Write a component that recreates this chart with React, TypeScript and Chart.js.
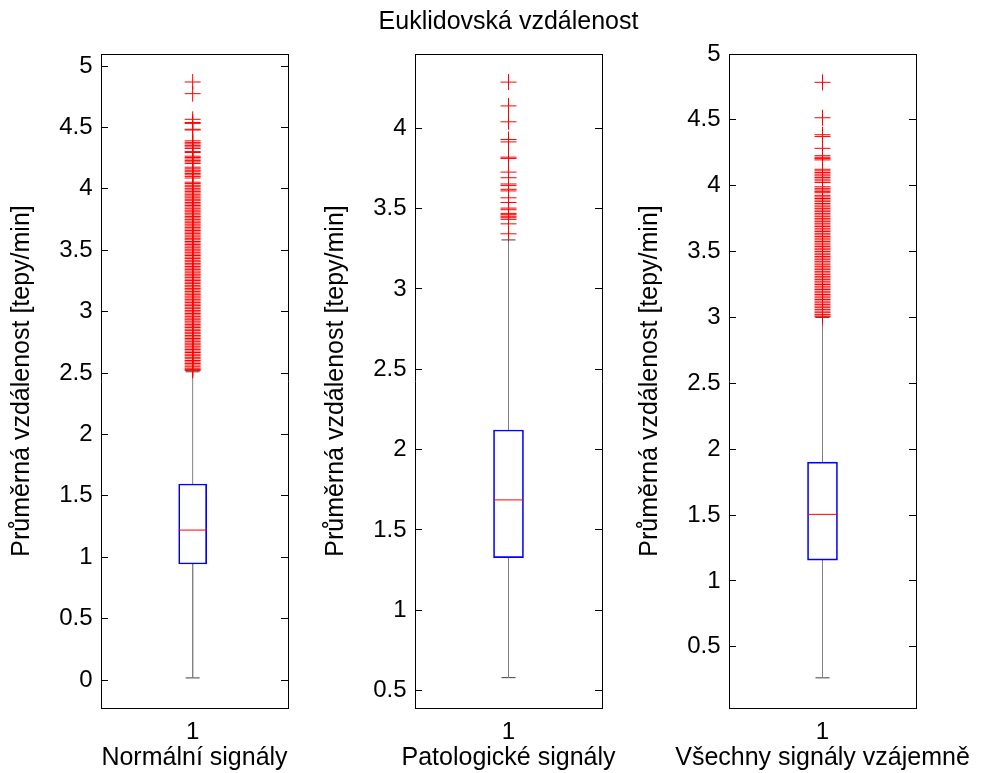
import React, { useEffect, useRef } from 'react';
import { Chart, registerables } from 'chart.js';

Chart.register(...registerables);

// ---------------- data ----------------
const MAIN_TITLE = 'Euklidovská vzdálenost';
const Y_TITLE = 'Průměrná vzdálenost [tepy/min]';
const CATEGORY_LABEL = '1';
const GROUP_LABELS = ['Normální signály', 'Patologické signály', 'Všechny signály vzájemně'];

const Q1 = [0.945, 1.328, 1.158];
const MEDIAN = [1.221, 1.687, 1.505];
const Q3 = [1.596, 2.122, 1.902];
const WHISKER_LOW = [0.017, 0.581, 0.264];
const WHISKER_HIGH = [2.51, 3.305, 3.0];

const OUTLIERS_NORMAL = [
  4.87, 4.775, 4.566, 4.54, 4.533, 4.485, 4.479,
  4.391, 4.378, 4.366, 4.352, 4.341, 4.329, 4.303, 4.296, 4.266, 4.255, 4.243, 4.23, 4.219, 4.206,
  4.176, 4.163, 4.151, 4.139, 4.125, 4.114, 4.101, 4.088, 4.054, 4.043, 4.029, 4.017, 4.004, 3.991,
  3.979, 3.966, 3.952, 3.941, 3.927, 3.915, 3.903, 3.889, 3.877, 3.864, 3.852, 3.838, 3.826, 3.813,
  3.801, 3.788, 3.775, 3.763, 3.749, 3.737, 3.724, 3.712, 3.698, 3.686, 3.673, 3.661, 3.648, 3.635,
  3.623, 3.609, 3.597, 3.585, 3.571, 3.559, 3.546, 3.534, 3.52, 3.508, 3.495, 3.483, 3.469, 3.457,
  3.444, 3.432, 3.418, 3.406, 3.393, 3.381, 3.367, 3.355, 3.342, 3.33, 3.316, 3.304, 3.291, 3.279,
  3.265, 3.253, 3.24, 3.228, 3.214, 3.202, 3.189, 3.177, 3.163, 3.151, 3.138, 3.126, 3.112, 3.1,
  3.087, 3.075, 3.061, 3.049, 3.036, 3.024, 3.01, 2.998, 2.985, 2.973, 2.959, 2.947, 2.934, 2.922,
  2.908, 2.896, 2.883, 2.871, 2.857, 2.845, 2.832, 2.82, 2.806, 2.794, 2.781, 2.769, 2.755, 2.743,
  2.73, 2.718, 2.704, 2.692, 2.679, 2.667, 2.653, 2.641, 2.628, 2.616, 2.602, 2.59, 2.577, 2.565,
  2.551, 2.539, 2.528, 2.521,
];

const OUTLIERS_PATHOLOGICAL = [
  4.287, 4.139, 4.04, 3.93, 3.915, 3.82, 3.812, 3.727, 3.692, 3.653, 3.643, 3.62, 3.61, 3.567,
  3.538, 3.503, 3.493, 3.47, 3.462, 3.452, 3.443, 3.433, 3.405, 3.343,
];

const OUTLIERS_ALL = [
  4.785, 4.516, 4.387, 4.373, 4.284, 4.228, 4.216, 4.206, 4.196,
  4.125, 4.113, 4.1, 4.088, 4.075, 4.062, 4.05, 4.037, 4.024,
  3.992, 3.98, 3.968, 3.957, 3.947, 3.927, 3.915, 3.903, 3.891, 3.879,
  3.865, 3.853, 3.84, 3.828, 3.815, 3.803, 3.79, 3.778, 3.765, 3.752, 3.74, 3.727, 3.715, 3.702,
  3.69, 3.677, 3.664, 3.652, 3.639, 3.627, 3.614, 3.602, 3.589, 3.576, 3.564, 3.551, 3.539, 3.526,
  3.514, 3.501, 3.488, 3.476, 3.463, 3.451, 3.438, 3.426, 3.413, 3.4, 3.388, 3.375, 3.363, 3.35,
  3.338, 3.325, 3.312, 3.3, 3.287, 3.275, 3.262, 3.25, 3.237, 3.224, 3.212, 3.199, 3.187, 3.174,
  3.162, 3.149, 3.136, 3.124, 3.111, 3.099, 3.086, 3.074, 3.061, 3.048, 3.036, 3.023, 3.011, 3.005,
];

const Y_TICKS_NORMAL = [0, 0.5, 1, 1.5, 2, 2.5, 3, 3.5, 4, 4.5, 5];
const Y_TICKS_PATHOLOGICAL = [0.5, 1, 1.5, 2, 2.5, 3, 3.5, 4];
const Y_TICKS_ALL = [0.5, 1, 1.5, 2, 2.5, 3, 3.5, 4, 4.5, 5];

const Y_MIN = [-0.228, 0.392, 0.035];
const Y_MAX = [5.098, 4.462, 5.0];

const OUTLIERS = [OUTLIERS_NORMAL, OUTLIERS_PATHOLOGICAL, OUTLIERS_ALL];
const Y_TICKS = [Y_TICKS_NORMAL, Y_TICKS_PATHOLOGICAL, Y_TICKS_ALL];

// ---------------- layout / style ----------------
const PAGE_W = 983;
const PAGE_H = 773;
const AX_TOP = 54;
const AX_BOTTOM = 708;
const FONT_FAMILY = '"Liberation Sans", Arial, Helvetica, sans-serif';
const TICK_SIZE = 24;
const TEXT_SIZE = 25;
const TITLE_PAD_TOP = 7;

const PANELS = [
  { canvasLeft: 0, canvasWidth: PAGE_W, axLeft: 101, axRight: 288, boxWidth: 28, xMax: 1.52 },
  { canvasLeft: 34, canvasWidth: PAGE_W - 34, axLeft: 415, axRight: 602, boxWidth: 30, xMax: 1.5 },
  { canvasLeft: 0, canvasWidth: PAGE_W, axLeft: 729, axRight: 916, boxWidth: 30, xMax: 1.5 },
];

Chart.defaults.font.family = FONT_FAMILY;
Chart.defaults.color = '#000';

const groupLabelPlugin = {
  id: 'groupLabel',
  afterDraw(chart: any, _args: any, opts: any) {
    const { ctx, chartArea } = chart;
    ctx.save();
    ctx.font = `${TEXT_SIZE}px ${FONT_FAMILY}`;
    ctx.fillStyle = '#000';
    ctx.textAlign = 'center';
    ctx.textBaseline = 'alphabetic';
    ctx.fillText(opts.text, (chartArea.left + chartArea.right) / 2, opts.baseline);
    ctx.restore();
  },
};

function Panel({ index }: { index: number }) {
  const ref = useRef<HTMLCanvasElement | null>(null);
  const p = PANELS[index];

  useEffect(() => {
    if (!ref.current) return;
    const yTicks = Y_TICKS[index];
    const leftW = p.axLeft - p.canvasLeft;
    const rightW = p.canvasLeft + p.canvasWidth - p.axRight;
    const hasTitle = index === 1;
    const titleBlock = TITLE_PAD_TOP + TEXT_SIZE * 1.2;
    const topH = hasTitle ? AX_TOP - titleBlock : AX_TOP;
    const bottomH = PAGE_H - AX_BOTTOM;
    const setYTicks = (scale: any) => {
      scale.ticks = yTicks.map((v) => ({ value: v }));
    };
    const border = { display: true, color: '#000', width: 1 };

    const chart = new Chart(ref.current, {
      type: 'scatter',
      data: {
        datasets: [
          {
            label: 'outliers',
            data: OUTLIERS[index].map((v) => ({ x: 1, y: v })),
            pointStyle: 'cross',
            pointRadius: 8,
            pointBorderColor: '#ff0000',
            pointBorderWidth: 1,
            showLine: false,
          },
          {
            label: 'median',
            data: [{ x: 1, y: MEDIAN[index] }],
            pointStyle: 'line',
            pointRadius: p.boxWidth / 2,
            pointBorderColor: '#ff0000',
            pointBorderWidth: 1,
          },
          {
            type: 'bar',
            label: 'box',
            data: [{ x: 1, y: [Q1[index], Q3[index]] }],
            backgroundColor: 'rgba(0,0,0,0)',
            borderColor: '#0000ff',
            borderWidth: 1,
            borderSkipped: false,
            barThickness: p.boxWidth,
          } as any,
          {
            label: 'whisker-up',
            data: [{ x: 1, y: Q3[index] }, { x: 1, y: WHISKER_HIGH[index] }],
            showLine: true,
            pointRadius: 0,
            borderColor: '#808080',
            borderWidth: 1,
          },
          {
            label: 'whisker-low',
            data: [{ x: 1, y: Q1[index] }, { x: 1, y: WHISKER_LOW[index] }],
            showLine: true,
            pointRadius: 0,
            borderColor: '#808080',
            borderWidth: 1,
          },
          {
            label: 'caps',
            data: [{ x: 1, y: WHISKER_LOW[index] }, { x: 1, y: WHISKER_HIGH[index] }],
            pointStyle: 'line',
            pointRadius: 7,
            pointBorderColor: '#404040',
            pointBorderWidth: 1,
          },
        ],
      },
      options: {
        responsive: false,
        maintainAspectRatio: false,
        animation: false,
        events: [],
        layout: { padding: 0, autoPadding: false } as any,
        plugins: {
          legend: { display: false },
          tooltip: { enabled: false },
          title: {
            display: hasTitle,
            text: MAIN_TITLE,
            color: '#000',
            font: { size: TEXT_SIZE, weight: 'normal', lineHeight: 1.2 },
            padding: { top: TITLE_PAD_TOP, bottom: 0 },
          },
          groupLabel: { text: GROUP_LABELS[index], baseline: 765 },
        } as any,
        scales: {
          x: {
            type: 'linear',
            position: 'bottom',
            min: 0.5,
            max: p.xMax,
            offset: false,
            afterBuildTicks: (s: any) => {
              s.ticks = [{ value: 1 }];
            },
            afterFit: (s: any) => {
              s.height = bottomH;
            },
            ticks: {
              callback: () => CATEGORY_LABEL,
              font: { size: TICK_SIZE },
              padding: 10,
              color: '#000',
              maxRotation: 0,
              minRotation: 0,
              autoSkip: false,
            },
            grid: { display: false, drawTicks: false, offset: false },
            border,
          },
          x2: {
            type: 'linear',
            position: 'top',
            min: 0.5,
            max: p.xMax,
            offset: false,
            afterFit: (s: any) => {
              s.height = topH;
            },
            ticks: { display: false },
            grid: { display: false, drawTicks: false },
            border,
          },
          y: {
            type: 'linear',
            position: 'left',
            min: Y_MIN[index],
            max: Y_MAX[index],
            beginAtZero: false,
            afterBuildTicks: setYTicks,
            afterFit: (s: any) => {
              s.width = leftW;
            },
            ticks: {
              font: { size: TICK_SIZE },
              padding: 15.5,
              color: '#000',
              callback: (v: any) => String(v),
            },
            grid: { drawOnChartArea: false, drawTicks: true, tickLength: -7, color: '#000', lineWidth: 1 },
            border,
            title: {
              display: true,
              text: Y_TITLE,
              color: '#000',
              font: { size: TEXT_SIZE },
              padding: { top: leftW - 101 + 7, bottom: 0 },
            },
          },
          y2: {
            type: 'linear',
            position: 'right',
            min: Y_MIN[index],
            max: Y_MAX[index],
            afterBuildTicks: setYTicks,
            afterFit: (s: any) => {
              s.width = rightW;
            },
            ticks: { display: false },
            grid: { drawOnChartArea: false, drawTicks: true, tickLength: -7, color: '#000', lineWidth: 1 },
            border,
          },
        } as any,
      },
      plugins: [groupLabelPlugin],
    } as any);

    return () => chart.destroy();
  }, [index]);

  return (
    <canvas
      ref={ref}
      width={p.canvasWidth}
      height={PAGE_H}
      style={{ position: 'absolute', left: p.canvasLeft, top: 0, width: p.canvasWidth, height: PAGE_H }}
    />
  );
}

export default function App() {
  return (
    <div
      style={{
        position: 'absolute',
        left: 0,
        top: 0,
        width: PAGE_W,
        height: PAGE_H,
        background: '#fff',
        overflow: 'hidden',
      }}
    >
      <Panel index={0} />
      <Panel index={1} />
      <Panel index={2} />
    </div>
  );
}
